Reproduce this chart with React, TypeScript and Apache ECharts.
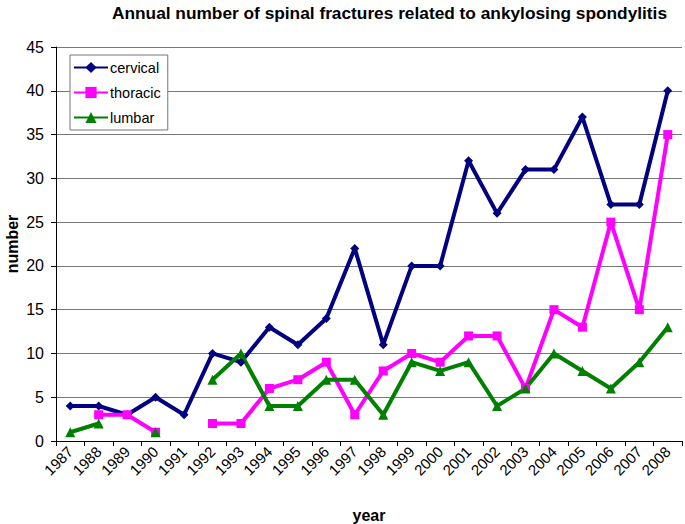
import React, { useEffect, useRef } from "react";
import * as echarts from "echarts";

const years = ["1987","1988","1989","1990","1991","1992","1993","1994","1995","1996","1997","1998","1999","2000","2001","2002","2003","2004","2005","2006","2007","2008"];
const cervical = [4,4,3,5,3,10,9,13,11,14,22,11,20,20,32,26,31,31,37,27,27,40];
const thoracic = [null,3,3,1,null,2,2,6,7,9,3,8,10,9,12,12,6,15,13,25,15,35];
const lumbar = [1,2,null,1,null,7,10,4,4,7,7,3,9,8,9,4,6,10,8,6,9,13];

export default function App() {
  const ref = useRef<HTMLDivElement>(null);
  useEffect(() => {
    const chart = echarts.init(ref.current!, null, { renderer: "svg" });
    const font = "Liberation Sans, Arial, sans-serif";
    chart.setOption({
      animation: false,
      textStyle: { fontFamily: font },
      title: {
        text: "Annual number of spinal fractures related to ankylosing spondylitis",
        left: 112,
        top: 4,
        padding: 0,
        textStyle: { fontSize: 17.3, fontWeight: "bold", color: "#000", fontFamily: font },
      },
      legend: {
        orient: "vertical",
        left: 70,
        top: 55,
        padding: [5, 7, 5, 3],
        itemGap: 10,
        itemWidth: 34,
        itemHeight: 14,
        borderColor: "#777",
        borderWidth: 1,
        backgroundColor: "#fff",
        textStyle: { fontSize: 14.5, color: "#000", fontFamily: font, padding: [0, 0, 0, -3] },
        data: ["cervical", "thoracic", "lumbar"],
      },
      grid: { left: 56, right: 3, top: 47, bottom: 83, containLabel: false, outerBoundsMode: "none" },
      xAxis: {
        type: "category",
        data: years,
        boundaryGap: true,
        name: "year",
        nameLocation: "middle",
        nameGap: 66,
        nameMoveOverlap: false,
        nameTextStyle: { fontSize: 16, fontWeight: "bold", color: "#000" },
        axisLine: { lineStyle: { color: "#000", width: 1 } },
        axisTick: { show: true, alignWithLabel: false, length: 5, lineStyle: { color: "#000" } },
        axisLabel: { rotate: 45, fontSize: 15, color: "#000", interval: 0, margin: 8 },
      },
      yAxis: {
        type: "value",
        min: 0,
        max: 45,
        interval: 5,
        name: "number",
        nameLocation: "middle",
        nameGap: 36,
        nameMoveOverlap: false,
        nameTextStyle: { fontSize: 16, fontWeight: "bold", color: "#000" },
        axisLine: { show: true, lineStyle: { color: "#000", width: 1 } },
        axisTick: { show: true, length: 5, lineStyle: { color: "#000" } },
        axisLabel: { fontSize: 16, color: "#000", margin: 12 },
        splitLine: { lineStyle: { color: "#777", width: 1 } },
      },
      series: [
        {
          name: "cervical",
          type: "line",
          data: cervical,
          symbol: "diamond",
          symbolSize: 9,
          lineStyle: { width: 4, color: "#000080" },
          itemStyle: { color: "#000080" },
        },
        {
          name: "thoracic",
          type: "line",
          data: thoracic,
          symbol: "rect",
          symbolSize: 9,
          lineStyle: { width: 4, color: "#FF00FF" },
          itemStyle: { color: "#FF00FF" },
        },
        {
          name: "lumbar",
          type: "line",
          data: lumbar,
          symbol: "triangle",
          symbolSize: 10,
          lineStyle: { width: 4, color: "#008000" },
          itemStyle: { color: "#008000" },
        },
      ],
    });
    return () => chart.dispose();
  }, []);
  return <div ref={ref} style={{ width: 685, height: 524, position: "absolute", left: 0, top: 0, background: "#fff" }} />;
}
